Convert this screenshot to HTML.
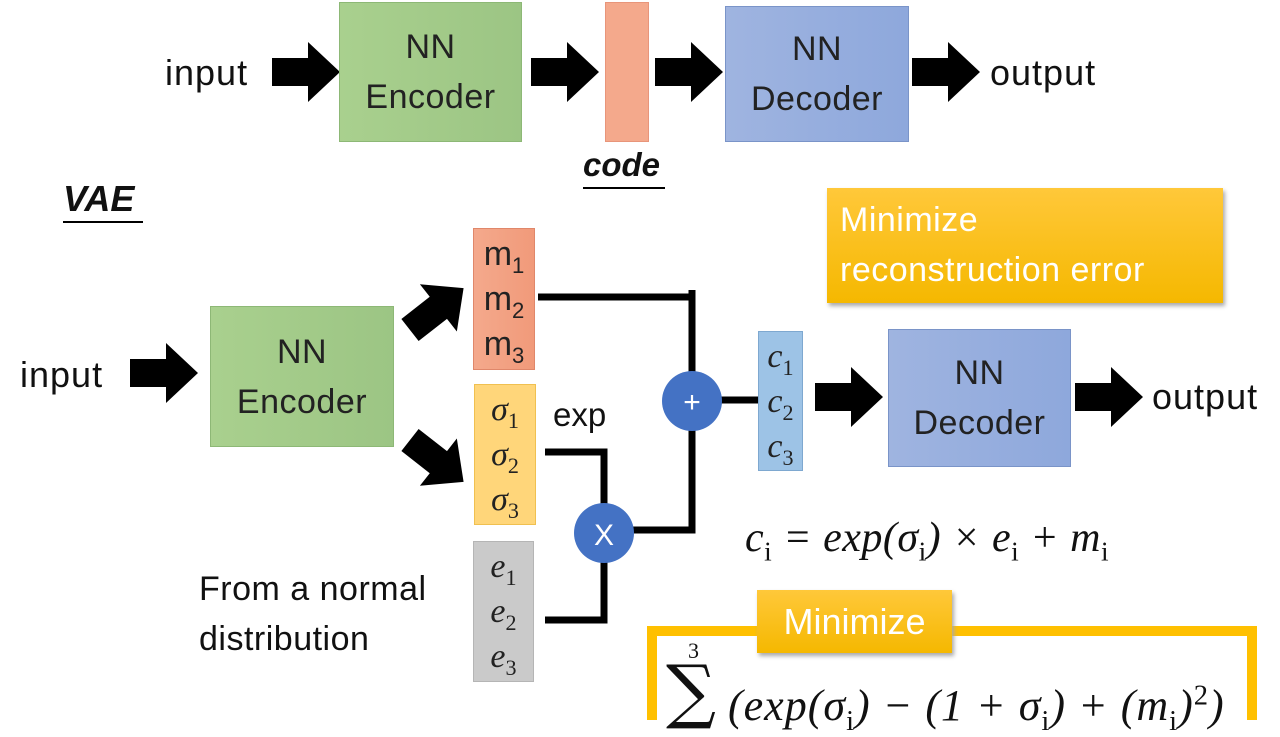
<!DOCTYPE html>
<html><head><style>
body{margin:0;width:1280px;height:720px;background:#fff;position:relative;overflow:hidden;font-family:"Liberation Sans","DejaVu Sans",sans-serif}
.a{position:absolute}
.box{position:absolute;box-sizing:border-box;display:flex;flex-direction:column;align-items:center;justify-content:center;color:#222;font-size:34px;line-height:50px;text-align:center;letter-spacing:0.5px}
.enc{background:linear-gradient(90deg,#a9d08e,#9cc584);border:1px solid #8db876}
.dec{background:linear-gradient(90deg,#9fb4e0,#8ea8dc);border:1px solid #7a94c8}
.t{position:absolute;font-size:36px;color:#111;letter-spacing:1px}
.m{font-family:"Liberation Serif","DejaVu Serif",serif;font-style:italic}
sub,sup{font-size:0.65em;font-style:normal;line-height:0}
.vec{font-size:34px;letter-spacing:0}
.vec div{line-height:45px;height:45px}
</style></head><body>
<svg class="a" style="left:0;top:0" width="1280" height="720">
<defs><polygon id="ar" points="0,-14 36,-14 36,-30 68,0 36,30 36,14 0,14" fill="#000"/></defs>
<use href="#ar" x="272" y="72"/><use href="#ar" x="531" y="72"/><use href="#ar" x="655" y="72"/><use href="#ar" x="912" y="72"/>
<use href="#ar" x="130" y="373"/><use href="#ar" x="815" y="397"/><use href="#ar" x="1075" y="397"/>
<use href="#ar" transform="translate(410,330) rotate(-38)"/>
<use href="#ar" transform="translate(410,440) rotate(38)"/>
<g stroke="#000" stroke-width="7" fill="none">
<polyline points="538,297 692,297 692,380"/>
<line x1="692" y1="290" x2="692" y2="300"/>
<polyline points="545,452 604,452 604,505"/>
<polyline points="545,620 604,620 604,560"/>
<polyline points="632,530 692,530 692,425"/>
<line x1="720" y1="400" x2="760" y2="400"/>
</g>
<circle cx="692" cy="401" r="30" fill="#4472c4"/>
<circle cx="604" cy="533" r="30" fill="#4472c4"/>
<text x="692" y="412" fill="#fff" font-size="30" text-anchor="middle" font-family="Liberation Sans">+</text>
<text x="604" y="545" fill="#fff" font-size="30" text-anchor="middle" font-family="Liberation Sans">X</text>
<rect x="652" y="631" width="600" height="100" fill="none" stroke="#ffc000" stroke-width="10"/>
<line x1="63" y1="222" x2="143" y2="222" stroke="#000" stroke-width="2"/>
<line x1="583" y1="188" x2="665" y2="188" stroke="#000" stroke-width="2"/>
</svg>
<div class="t" style="left:165px;top:52px">input</div>
<div class="box enc" style="left:339px;top:2px;width:183px;height:140px">NN<br>Encoder</div>
<div class="a" style="left:605px;top:2px;width:44px;height:140px;background:#f4a98c;border:1px solid #e8957a;box-sizing:border-box"></div>
<div class="t" style="left:583px;top:146px;font-weight:bold;font-style:italic;font-size:33px;letter-spacing:0">code</div>
<div class="box dec" style="left:725px;top:6px;width:184px;height:136px">NN<br>Decoder</div>
<div class="t" style="left:990px;top:52px">output</div>
<div class="t" style="left:63px;top:178px;font-weight:bold;font-style:italic;font-size:36px;letter-spacing:0">VAE</div>
<div class="a" style="left:827px;top:188px;width:396px;height:115px;background:linear-gradient(#ffc83a,#f5b800);box-shadow:2px 3px 4px #aaa;color:#fff;font-size:34px;letter-spacing:0.5px;line-height:50px;padding:7px 13px;box-sizing:border-box;white-space:nowrap">Minimize<br>reconstruction error</div>
<div class="t" style="left:20px;top:354px">input</div>
<div class="box enc" style="left:210px;top:306px;width:184px;height:141px">NN<br>Encoder</div>
<div class="box vec" style="left:473px;top:228px;width:62px;height:142px;background:linear-gradient(90deg,#f4a98c,#f19a7a);border:1px solid #e0876a"><div>m<sub>1</sub></div><div>m<sub>2</sub></div><div>m<sub>3</sub></div></div>
<div class="box vec m" style="left:474px;top:384px;width:62px;height:141px;background:#ffd67a;border:1px solid #f0c050"><div>σ<sub>1</sub></div><div>σ<sub>2</sub></div><div>σ<sub>3</sub></div></div>
<div class="box vec m" style="left:473px;top:541px;width:61px;height:141px;background:#cacaca;border:1px solid #b5b5b5"><div>e<sub>1</sub></div><div>e<sub>2</sub></div><div>e<sub>3</sub></div></div>
<div class="t" style="left:553px;top:396px;font-size:33px;letter-spacing:0">exp</div>
<div class="box vec m" style="left:758px;top:331px;width:45px;height:140px;background:#9dc3e6;border:1px solid #7ea8d0"><div>c<sub>1</sub></div><div>c<sub>2</sub></div><div>c<sub>3</sub></div></div>
<div class="box dec" style="left:888px;top:329px;width:183px;height:138px">NN<br>Decoder</div>
<div class="t" style="left:1152px;top:376px">output</div>
<div class="t m" style="left:745px;top:514px;font-size:42px;letter-spacing:0.5px;white-space:nowrap">c<sub>i</sub> = exp(σ<sub>i</sub>) × e<sub>i</sub> + m<sub>i</sub></div>
<div class="t" style="left:199px;top:564px;line-height:50px;font-size:34px;letter-spacing:0.5px">From a normal<br>distribution</div>
<div class="a" style="left:757px;top:590px;width:195px;height:63px;background:linear-gradient(#ffc83a,#f5b800);box-shadow:2px 3px 4px #aaa;color:#fff;font-size:36px;line-height:63px;text-align:center">Minimize</div>
<div class="t m" style="left:688px;top:638px;font-size:22px;font-style:normal">3</div>
<div class="t" style="left:666px;top:650px;font-size:70px;font-family:'DejaVu Serif',serif">∑</div>
<div class="t m" style="left:728px;top:680px;font-size:44px;letter-spacing:1px;white-space:nowrap">(exp(σ<sub>i</sub>) − (1 + σ<sub>i</sub>) + (m<sub>i</sub>)<sup>2</sup>)</div>
</body></html>
